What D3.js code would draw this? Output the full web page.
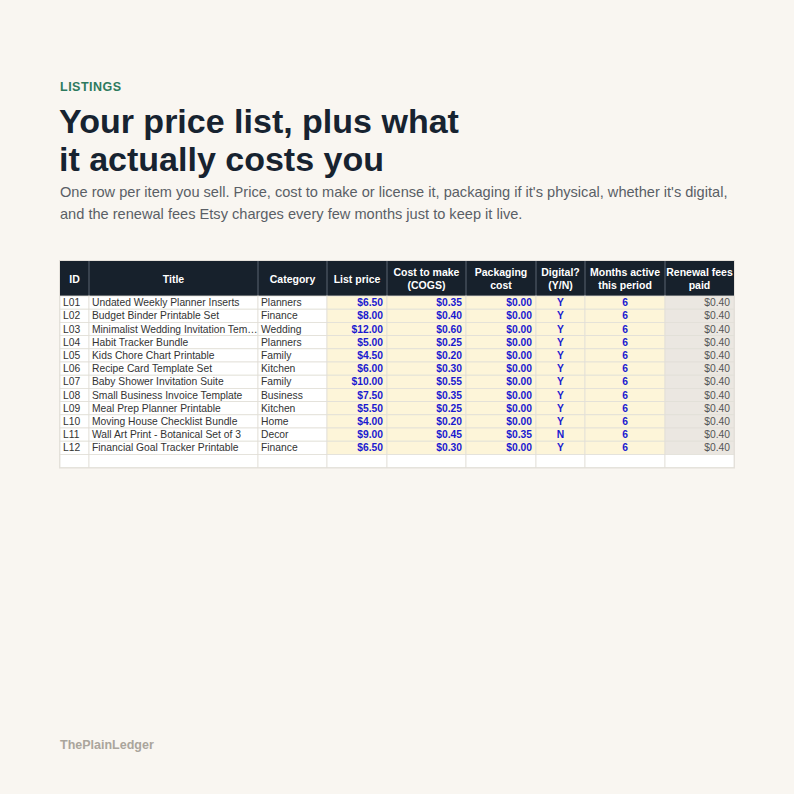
<!DOCTYPE html>
<html>
<head>
<meta charset="utf-8">
<script src="https://cdn.jsdelivr.net/npm/d3@7"></script>
<style>
  body { margin: 0; background: #f9f6f1; }
  svg { display: block; font-family: "Liberation Sans", Arial, sans-serif; }
</style>
</head>
<body>
<svg id="chart" width="794" height="794"></svg>
<script>
// table data
var headers = ["ID", "Title", "Category", "List price", "Cost to make\n(COGS)", "Packaging\ncost", "Digital?\n(Y/N)", "Months active\nthis period", "Renewal fees\npaid"];
var ids = ["L01","L02","L03","L04","L05","L06","L07","L08","L09","L10","L11","L12"];
var titles = ["Undated Weekly Planner Inserts","Budget Binder Printable Set","Minimalist Wedding Invitation Tem\u2026","Habit Tracker Bundle","Kids Chore Chart Printable","Recipe Card Template Set","Baby Shower Invitation Suite","Small Business Invoice Template","Meal Prep Planner Printable","Moving House Checklist Bundle","Wall Art Print - Botanical Set of 3","Financial Goal Tracker Printable"];
var categories = ["Planners","Finance","Wedding","Planners","Family","Kitchen","Family","Business","Kitchen","Home","Decor","Finance"];
var listPrice = [6.5, 8, 12, 5, 4.5, 6, 10, 7.5, 5.5, 4, 9, 6.5];
var cogs = [0.35, 0.4, 0.6, 0.25, 0.2, 0.3, 0.55, 0.35, 0.25, 0.2, 0.45, 0.3];
var packaging = [0, 0, 0, 0, 0, 0, 0, 0, 0, 0, 0.35, 0];
var digital = ["Y","Y","Y","Y","Y","Y","Y","Y","Y","Y","N","Y"];
var monthsActive = [6, 6, 6, 6, 6, 6, 6, 6, 6, 6, 6, 6];
var renewalFees = [0.4, 0.4, 0.4, 0.4, 0.4, 0.4, 0.4, 0.4, 0.4, 0.4, 0.4, 0.4];

var svg = d3.select("#chart");
var money = function(v) { return "$" + v.toFixed(2); };

// heading
svg.append("text").attr("x", 60).attr("y", 91).attr("fill", "#2d7a5e")
	.attr("font-size", 12.5).attr("font-weight", "bold").attr("letter-spacing", 0.5).text("LISTINGS");
["Your price list, plus what", "it actually costs you"].forEach(function(t, i) {
	svg.append("text").attr("x", 59).attr("y", 133 + i * 38).attr("fill", "#172330")
		.attr("font-size", 34).attr("font-weight", "bold").text(t);
});
["One row per item you sell. Price, cost to make or license it, packaging if it's physical, whether it's digital,",
 "and the renewal fees Etsy charges every few months just to keep it live."].forEach(function(t, i) {
	svg.append("text").attr("x", 60).attr("y", 197 + i * 22).attr("fill", "#5a5f66")
		.attr("font-size", 14.6).text(t);
});
svg.append("text").attr("x", 60).attr("y", 749).attr("fill", "#aaa59c")
	.attr("font-size", 12.5).attr("font-weight", "bold").text("ThePlainLedger");

// columns
var edges = [60, 89, 258, 327, 387, 466, 536, 585, 665, 734];
var headTop = 261, headH = 35, rowH = 13.2;
var nRows = ids.length + 1;
var y = d3.scaleLinear().domain([0, nRows]).range([headTop + headH, headTop + headH + nRows * rowH]);

var cols = [
	{ vals: ids, align: "start", color: "#333", fill: "#fff" },
	{ vals: titles, align: "start", color: "#333", fill: "#fff" },
	{ vals: categories, align: "start", color: "#333", fill: "#fff" },
	{ vals: listPrice.map(money), align: "end", color: "#1a1ad0", fill: "#fdf5d9", bold: true },
	{ vals: cogs.map(money), align: "end", color: "#1a1ad0", fill: "#fdf5d9", bold: true },
	{ vals: packaging.map(money), align: "end", color: "#1a1ad0", fill: "#fdf5d9", bold: true },
	{ vals: digital, align: "middle", color: "#1a1ad0", fill: "#fdf5d9", bold: true },
	{ vals: monthsActive, align: "middle", color: "#1a1ad0", fill: "#fdf5d9", bold: true },
	{ vals: renewalFees.map(money), align: "end", color: "#555", fill: "#ebe7e1" }
];

// shadow/frame
svg.append("rect").attr("x", edges[0] - 1).attr("y", headTop - 1)
	.attr("width", edges[9] - edges[0] + 2).attr("height", y(nRows) - headTop + 2)
	.attr("fill", "#e6e2dc");

// header
svg.append("rect").attr("x", edges[0]).attr("y", headTop)
	.attr("width", edges[9] - edges[0]).attr("height", headH).attr("fill", "#17212c");
headers.forEach(function(h, i) {
	var lines = h.split("\n");
	var cx = (edges[i] + edges[i + 1]) / 2;
	var t = svg.append("text").attr("text-anchor", "middle").attr("fill", "#fff")
		.attr("font-size", 10.5).attr("font-weight", "bold");
	lines.forEach(function(l, j) {
		t.append("tspan").attr("x", cx)
			.attr("y", headTop + headH / 2 + 4 + (j - (lines.length - 1) / 2) * 13).text(l);
	});
	if (i > 0) svg.append("line").attr("x1", edges[i]).attr("x2", edges[i])
		.attr("y1", headTop).attr("y2", headTop + headH).attr("stroke", "#5a6470");
});

// body cells
cols.forEach(function(c, ci) {
	var x0 = edges[ci], x1 = edges[ci + 1];
	for (var r = 0; r < nRows; r++) {
		var blank = r >= ids.length;
		svg.append("rect").attr("x", x0).attr("y", y(r)).attr("width", x1 - x0).attr("height", rowH)
			.attr("fill", blank ? "#fff" : c.fill).attr("stroke", "#e2dfd8").attr("stroke-width", 0.8);
		if (blank) continue;
		var tx = c.align === "start" ? x0 + 3 : c.align === "end" ? x1 - 4 : (x0 + x1) / 2;
		svg.append("text").attr("x", tx).attr("y", y(r) + rowH - 3)
			.attr("text-anchor", c.align).attr("fill", c.color)
			.attr("font-size", 10.3).attr("font-weight", c.bold ? "bold" : "normal")
			.text(c.vals[r]);
	}
});
</script>
</body>
</html>
